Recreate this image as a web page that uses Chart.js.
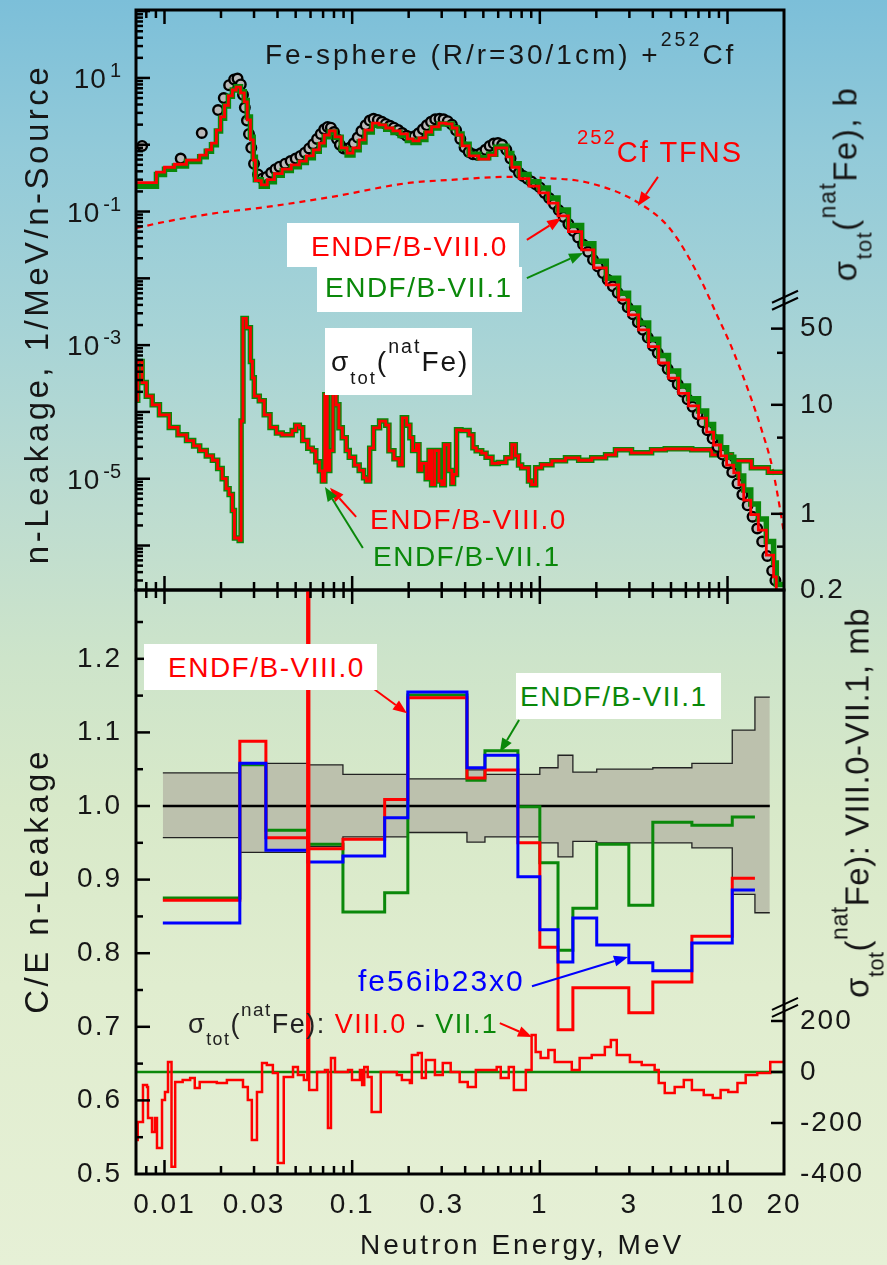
<!DOCTYPE html>
<html>
<head>
<meta charset="utf-8">
<title>Fe-sphere n-leakage</title>
<script src="https://cdn.jsdelivr.net/npm/chart.js@4.4.1/dist/chart.umd.min.js"></script>
<style>
  html, body { margin: 0; padding: 0; }
  #wrap {
    position: relative; width: 887px; height: 1265px; overflow: hidden;
    background: linear-gradient(to bottom, #7cbfd9 0%, #92cad9 12%, #a8d4d6 27%, #bddcd0 40%, #cde4ca 52%, #d8e9c9 64%, #e0edcf 78%, #e6f0d6 100%);
    font-family: 'Liberation Sans', Arial, sans-serif; color: #161616;
  }
  canvas { position: absolute; left: 0; top: 0; }
  .t { position: absolute; white-space: nowrap; line-height: 1; }
  .box { position: absolute; background: #fff; }
  .sup, .sub { line-height: 0; }
  .sup { font-size: 0.7em; vertical-align: 0.9em; }
  .sub { font-size: 0.66em; vertical-align: -0.7em; }
  .rot { position: absolute; white-space: nowrap; line-height: 1; transform: translate(-50%, -50%) rotate(-90deg); }
</style>
</head>
<body>
<div id="wrap">
  <canvas id="cTop" width="887" height="1265"></canvas>
  <canvas id="cBot" width="887" height="1265"></canvas>

  <div class="t" style="left:265px;top:39px;font-size:28px;letter-spacing:3px">Fe-sphere (R/r=30/1cm) +<span class="sup">252</span>Cf</div>
  <div class="t" style="left:577px;top:137px;font-size:29px;letter-spacing:2px;color:#f00"><span class="sup">252</span>Cf TFNS</div>

  <div class="box" style="left:287px;top:223px;width:232px;height:44px"></div>
  <div class="t" style="left:311px;top:233px;font-size:28px;letter-spacing:1.5px;color:#f00">ENDF/B-VIII.0</div>
  <div class="box" style="left:317px;top:267px;width:205px;height:45px"></div>
  <div class="t" style="left:325px;top:274px;font-size:28px;letter-spacing:1.5px;color:#0a880a">ENDF/B-VII.1</div>
  <div class="box" style="left:325px;top:328px;width:147px;height:67px"></div>
  <div class="t" style="left:331px;top:346px;font-size:28px;letter-spacing:2px">σ<span class="sub">tot</span>(<span class="sup">nat</span>Fe)</div>
  <div class="t" style="left:370px;top:506px;font-size:28px;letter-spacing:1.5px;color:#f00">ENDF/B-VIII.0</div>
  <div class="t" style="left:373px;top:543px;font-size:28px;letter-spacing:1.5px;color:#0a880a">ENDF/B-VII.1</div>

  <div class="box" style="left:144px;top:644px;width:233px;height:46px"></div>
  <div class="t" style="left:168px;top:654px;font-size:28px;letter-spacing:1.5px;color:#f00">ENDF/B-VIII.0</div>
  <div class="box" style="left:516px;top:673px;width:205px;height:46px"></div>
  <div class="t" style="left:520px;top:683px;font-size:28px;letter-spacing:1.5px;color:#0a880a">ENDF/B-VII.1</div>
  <div class="t" style="left:358px;top:966px;font-size:30px;letter-spacing:2px;color:#00f">fe56ib23x0</div>
  <div class="t" style="left:188px;top:1010px;font-size:27px;letter-spacing:1.5px;color:#222">σ<span class="sub">tot</span>(<span class="sup">nat</span>Fe): <span style="color:#f00">VIII.0</span> - <span style="color:#0a880a">VII.1</span></div>

  <div class="t" style="left:360px;top:1231px;font-size:28px;letter-spacing:3px">Neutron Energy, MeV</div>
  <div class="rot" style="left:36px;top:314px;font-size:33px;letter-spacing:3.5px">n-Leakage, 1/MeV/n-Source</div>
  <div class="rot" style="left:36px;top:881px;font-size:33px;letter-spacing:3.5px">C/E n-Leakage</div>
  <div class="rot" style="left:846px;top:184px;font-size:33px;letter-spacing:1.5px">σ<span class="sub">tot</span>(<span class="sup">nat</span>Fe), b</div>
  <div class="rot" style="left:858px;top:803px;font-size:33px;letter-spacing:0.5px">σ<span class="sub">tot</span>(<span class="sup">nat</span>Fe): VIII.0-VII.1, mb</div>
</div>

<script>
// ---------- top panel: leakage spectra (1/MeV/n-source) ----------
const specE = [0.0071, 0.00906, 0.0100, 0.0113, 0.0131, 0.0154, 0.0167, 0.0178, 0.0189, 0.0199,
  0.0209, 0.0219, 0.0230, 0.0241, 0.0254, 0.0266, 0.0276, 0.0287, 0.0297, 0.0305,
  0.0328, 0.0353, 0.0385, 0.0424, 0.0474, 0.0523, 0.0570, 0.0621, 0.0668, 0.0710,
  0.0755, 0.0812, 0.0874, 0.0940, 0.101, 0.109, 0.117, 0.128, 0.139, 0.151,
  0.165, 0.180, 0.197, 0.211, 0.227, 0.247, 0.265, 0.290, 0.316, 0.341,
  0.362, 0.385, 0.420, 0.473, 0.534, 0.582, 0.626, 0.667, 0.709, 0.776,
  0.875, 0.989, 1.11, 1.25, 1.42, 1.67, 1.94, 2.26, 2.63, 2.97,
  3.36, 3.80, 4.30, 4.85, 5.49, 6.20, 7.01, 7.74, 8.43, 9.2,
  9.89, 10.8, 11.5, 12.2, 13.3, 14.6, 16.1, 17.6, 18.2, 20];
const specVIII = [0.27, 0.39, 0.46, 0.51, 0.59, 0.70, 0.84, 1.06, 1.66, 2.61,
  3.9, 5.4, 6.6, 7.3, 5.96, 4.37, 2.35, 1.18, 0.59, 0.29,
  0.25, 0.30, 0.37, 0.43, 0.50, 0.57, 0.68, 0.84, 1.06, 1.40,
  1.61, 1.31, 0.90, 0.75, 0.90, 1.18, 1.66, 2.1, 1.98, 1.78,
  1.61, 1.45, 1.22, 1.14, 1.27, 1.55, 1.85, 2.1, 2.05, 1.78,
  1.40, 0.96, 0.68, 0.61, 0.70, 0.90, 0.90, 0.66, 0.46, 0.31,
  0.24, 0.19, 0.134, 0.086, 0.050, 0.0266, 0.0143, 0.0080, 0.00475, 0.00284,
  0.00169, 9.5e-4, 5.4e-4, 3.2e-4, 1.9e-4, 1.23e-4, 8.1e-5, 5.0e-5, 3.2e-5, 2.2e-5,
  1.6e-5, 1.22e-5, 8.1e-6, 4.8e-6, 2.9e-6, 1.7e-6, 7.2e-7, 3.4e-7, 1.5e-7, 1.5e-7];
const specVII = [0.24, 0.36, 0.43, 0.48, 0.56, 0.66, 0.80, 1.0, 1.6, 2.5,
  3.8, 5.3, 6.6, 7.4, 6.2, 4.6, 2.6, 1.3, 0.65, 0.30,
  0.24, 0.28, 0.35, 0.41, 0.47, 0.54, 0.64, 0.80, 1.0, 1.32,
  1.55, 1.30, 0.88, 0.70, 0.84, 1.10, 1.55, 1.95, 1.90, 1.70,
  1.52, 1.38, 1.16, 1.08, 1.20, 1.48, 1.78, 2.05, 2.05, 1.80,
  1.45, 1.02, 0.72, 0.64, 0.72, 0.92, 0.95, 0.74, 0.52, 0.36,
  0.28, 0.225, 0.16, 0.105, 0.062, 0.033, 0.018, 0.0100, 0.0060, 0.0036,
  0.00215, 1.22e-3, 7.0e-4, 4.1e-4, 2.45e-4, 1.58e-4, 1.03e-4, 6.5e-5, 4.2e-5, 2.9e-5,
  2.1e-5, 1.6e-5, 1.1e-5, 6.8e-6, 4.2e-6, 2.5e-6, 1.15e-6, 5.5e-7, 2.6e-7, 2.6e-7];

// measured leakage (open circles)
const expE = [0.0076, 0.0122, 0.0158, 0.0193, 0.0207, 0.0221, 0.0235, 0.0245, 0.0255, 0.0262,
  0.0268, 0.0275, 0.0282, 0.0290, 0.0300, 0.0315, 0.0332, 0.0350, 0.037, 0.039,
  0.041, 0.044, 0.047, 0.050, 0.053, 0.056, 0.059, 0.062, 0.065, 0.068,
  0.071, 0.074, 0.077, 0.080, 0.083, 0.086, 0.090, 0.094, 0.098, 0.102,
  0.107, 0.112, 0.118, 0.124, 0.130, 0.137, 0.144, 0.151, 0.159, 0.167,
  0.176, 0.185, 0.195, 0.205, 0.215, 0.226, 0.238, 0.250, 0.263, 0.277,
  0.292, 0.307, 0.323, 0.340, 0.358, 0.377, 0.397, 0.418, 0.440, 0.463,
  0.487, 0.513, 0.540, 0.568, 0.598, 0.630, 0.663, 0.698, 0.735, 0.774,
  0.815, 0.858, 0.903, 0.95, 1.0, 1.06, 1.12, 1.19, 1.26, 1.34,
  1.42, 1.51, 1.60, 1.70, 1.81, 1.92, 2.04, 2.17, 2.30, 2.45,
  2.60, 2.77, 2.94, 3.13, 3.33, 3.54, 3.76, 4.0, 4.25, 4.52,
  4.80, 5.1, 5.43, 5.77, 6.13, 6.52, 6.93, 7.37, 7.83, 8.33,
  8.85, 9.41, 10.0, 10.6, 11.3, 12.0, 12.8, 13.6, 14.4, 15.3,
  16.3, 17.3, 18.0];
const expV = [0.96, 0.62, 1.5, 3.3, 5.0, 7.8, 9.5, 9.8, 8.0, 5.6,
  3.6, 2.3, 1.45, 0.90, 0.52, 0.36, 0.31, 0.33, 0.38, 0.43,
  0.47, 0.52, 0.57, 0.62, 0.68, 0.76, 0.88, 1.02, 1.22, 1.45,
  1.70, 1.85, 1.80, 1.55, 1.22, 1.00, 0.88, 0.86, 0.92, 1.05,
  1.28, 1.60, 1.95, 2.3, 2.45, 2.35, 2.2, 2.05, 1.92, 1.80,
  1.66, 1.50, 1.36, 1.30, 1.34, 1.48, 1.70, 1.95, 2.2, 2.4,
  2.45, 2.4, 2.25, 2.0, 1.65, 1.22, 0.92, 0.78, 0.72, 0.71,
  0.75, 0.84, 0.96, 1.04, 1.06, 1.0, 0.84, 0.62, 0.46, 0.38,
  0.34, 0.31, 0.28, 0.255, 0.23, 0.19, 0.16, 0.13, 0.105, 0.083,
  0.065, 0.051, 0.041, 0.032, 0.025, 0.019, 0.015, 0.012, 0.0095, 0.0076,
  0.0061, 0.0049, 0.0037, 0.0029, 0.0022, 0.0017, 0.0013, 0.00098, 7.6e-4, 5.8e-4,
  4.4e-4, 3.4e-4, 2.6e-4, 2.0e-4, 1.55e-4, 1.2e-4, 9.2e-5, 7.0e-5, 5.3e-5, 4.0e-5,
  3.0e-5, 2.3e-5, 1.7e-5, 1.25e-5, 8.5e-6, 5.8e-6, 4.0e-6, 2.7e-6, 1.8e-6, 1.15e-6,
  7.0e-7, 4.2e-7, 3.0e-7];

// 252Cf source spectrum (dashed)
const tfnsE = [0.0071, 0.01, 0.0189, 0.0348, 0.078, 0.20, 0.33, 0.68, 1.07, 1.83,
  3.36, 5.0, 7.2, 8.7, 10.5, 12.9, 15.2, 17.3, 19.2, 20];
const tfnsV = [0.0567, 0.070, 0.095, 0.117, 0.166, 0.268, 0.297, 0.33, 0.318, 0.268,
  0.135, 0.053, 0.0095, 0.0030, 9.4e-4, 2.1e-4, 5.4e-5, 1.5e-5, 3.1e-6, 1.5e-6];

// total cross section of natFe, barn (right axis)
const sigE = [0.0070, 0.0072, 0.0076, 0.0080, 0.0086, 0.0094, 0.0106, 0.0118, 0.0131, 0.0143,
  0.0154, 0.0167, 0.0180, 0.0192, 0.0203, 0.0213, 0.0221, 0.0230, 0.0236, 0.0250,
  0.0256, 0.0262, 0.0273, 0.0287, 0.0294, 0.0301, 0.0320, 0.0340, 0.0365, 0.0395,
  0.0424, 0.0455, 0.0479, 0.0500, 0.0523, 0.0545, 0.0580, 0.0613, 0.0640, 0.0669,
  0.0694, 0.0715, 0.0737, 0.0760, 0.0790, 0.0821, 0.0850, 0.0886, 0.0930, 0.0965,
  0.103, 0.109, 0.115, 0.119, 0.124, 0.130, 0.140, 0.151, 0.157, 0.167,
  0.178, 0.185, 0.195, 0.203, 0.210, 0.220, 0.227, 0.235, 0.248, 0.257,
  0.265, 0.275, 0.290, 0.300, 0.310, 0.327, 0.340, 0.347, 0.360, 0.380,
  0.420, 0.440, 0.458, 0.490, 0.517, 0.556, 0.600, 0.659, 0.709, 0.740,
  0.770, 0.800, 0.870, 0.905, 0.950, 1.02, 1.16, 1.37, 1.61, 1.89,
  2.24, 2.53, 3.08, 3.94, 4.66, 6.45, 8.25, 10.5, 13.4, 16.5, 20];
const sigV = [11, 25, 16, 12, 10, 8.1, 6.2, 5.3, 4.7, 4.2,
  3.8, 3.4, 3.1, 2.6, 2.1, 1.7, 1.5, 1.07, 0.6, 0.57,
  7.1, 62, 51, 25, 17.7, 12, 10.9, 8.1, 6.2, 5.5,
  5.3, 5.3, 5.8, 6.5, 6.15, 4.7, 4.0, 3.78, 3.0, 2.48,
  2.0, 12.4, 2.5, 3.8, 15, 10, 6.15, 5.0, 3.8, 3.3,
  2.8, 2.5, 2.14, 2.0, 4.0, 6.15, 7.1, 6.5, 3.78, 3.2,
  2.82, 7.6, 6.5, 5.0, 3.8, 4.3, 2.5, 2.9, 2.1, 3.8,
  1.85, 3.8, 2.0, 1.85, 4.3, 2.5, 1.9, 2.3, 5.9, 5.8,
  5.3, 4.03, 3.78, 3.6, 3.3, 2.9, 2.95, 3.26, 4.3, 3.4,
  2.8, 2.64, 2.0, 1.85, 2.64, 2.82, 3.06, 3.26, 3.1, 3.26,
  3.48, 3.87, 3.63, 3.87, 3.95, 3.87, 3.48, 3.06, 2.64, 2.4, 2.3];

// ---------- bottom panel: C/E ratios ----------
const ceEdges = [0.0098, 0.0252, 0.0347, 0.0581, 0.0893, 0.149, 0.198, 0.409, 0.51, 0.764,
  1.0, 1.25, 1.5, 2.01, 2.98, 4.0, 6.46, 10.6, 14.0];
const ceVIII = [0.872, 1.088, 0.957, 0.942, 0.955, 1.009, 1.147, 1.038, 1.049, 0.950,
  0.808, 0.696, 0.753, 0.753, 0.719, 0.761, 0.823, 0.902];
const ceVII = [0.875, 1.056, 0.967, 0.948, 0.856, 0.882, 1.151, 1.035, 1.075, 0.999,
  0.923, 0.804, 0.861, 0.948, 0.865, 0.978, 0.974, 0.985];
const ceIB = [0.841, 1.058, 0.940, 0.924, 0.932, 0.984, 1.155, 1.052, 1.069, 0.904,
  0.832, 0.788, 0.848, 0.811, 0.787, 0.776, 0.814, 0.886];

// experimental uncertainty band
const bandEdges = [0.0098, 0.0252, 0.0347, 0.0581, 0.0893, 0.149, 0.198, 0.409, 0.51, 0.764,
  1.0, 1.25, 1.5, 2.01, 2.98, 4.0, 6.46, 10.6, 14.0, 16.8];
const bandHi = [1.045, 1.058, 1.058, 1.056, 1.043, 1.043, 1.037, 1.049, 1.043, 1.043,
  1.052, 1.069, 1.046, 1.050, 1.050, 1.052, 1.058, 1.103, 1.148];
const bandLo = [0.957, 0.937, 0.937, 0.945, 0.958, 0.958, 0.964, 0.951, 0.958, 0.958,
  0.950, 0.931, 0.952, 0.950, 0.950, 0.950, 0.943, 0.880, 0.855];
const unitE = [0.0098, 16.8];
const unitV = [1, 1];

// sigma_tot difference VIII.0 - VII.1, mb (right axis)
const diffE = [0.00702, 0.0072, 0.00768, 0.00807, 0.00817, 0.00858, 0.0089, 0.00912, 0.0097, 0.01006,
  0.01044, 0.0109, 0.0114, 0.0125, 0.0137, 0.0145, 0.0154, 0.0190, 0.0215, 0.0262,
  0.0278, 0.0292, 0.0311, 0.0331, 0.0351, 0.0378, 0.0402, 0.0432, 0.0484, 0.0514,
  0.0553, 0.0577, 0.0590, 0.0650, 0.0716, 0.0743, 0.0771, 0.0810, 0.0951, 0.0998,
  0.110, 0.113, 0.116, 0.121, 0.127, 0.142, 0.173, 0.184, 0.203, 0.208,
  0.224, 0.235, 0.247, 0.276, 0.304, 0.335, 0.374, 0.413, 0.456, 0.589,
  0.619, 0.683, 0.727, 0.842, 0.904, 0.950, 1.01, 1.11, 1.20, 1.48,
  1.63, 1.89, 2.22, 2.39, 2.57, 3.02, 3.49, 4.09, 4.30, 4.63,
  5.23, 5.85, 6.46, 7.47, 8.34, 9.19, 10.1, 11.3, 12.5, 14.4, 16.9, 20];
const diffV = [-267, -196, -51, -59, -180, -235, -180, -298, -110, -78,
  39, -372, -39, -31, -24, -63, -39, -43, -31, -59,
  -110, -267, -78, 35, 27, -4, -357, -20, 20, -12,
  -31, 3000, -71, 0, 8, -220, 55, 0, 8, -31,
  8, -51, 20, -20, -157, 0, -12, -31, -43, 67,
  74, -24, 47, -12, 35, 0, -39, -59, 8, 20,
  -24, 20, -71, 8, 145, 78, 55, 86, 39, 8,
  55, 67, 98, 125, 67, 39, 27, 8, -43, -82,
  -59, -31, -71, -90, -102, -71, -78, -43, -12, -4, 39, 39];
const zeroE = [0.007, 20];
const zeroV = [0, 0];

// ---------- tick values ----------
const xLabels = [0.01, 0.03, 0.1, 0.3, 1, 3, 10, 20];
const xMajor = [0.01, 0.1, 1, 10];
const sigLabels = [0.2, 1, 10, 50];
const sigMinor = [0.5, 5, 30];
const leakMajor = [1e-6, 1e-5, 1e-4, 1e-3, 1e-2, 1e-1, 1, 10, 100];
const leakPow = [1, -1, -3, -5];
const ceLabels = [0.5, 0.6, 0.7, 0.8, 0.9, 1.0, 1.1, 1.2];
const ceMinor = [0.55, 0.65, 0.75, 0.85, 0.95, 1.05, 1.15, 1.25];
const diffLabels = [-400, -200, 0, 200];

const RED = '#ff0000', GREEN = '#0a880a', BLUE = '#0000ff';
const FONT = "'Liberation Sans', Arial, sans-serif";
Chart.defaults.font.family = FONT;
Chart.defaults.font.size = 28;
Chart.defaults.color = '#161616';

const pts = (xs, ys) => xs.map((x, i) => ({x: x, y: ys[i]}));
const hist = (edges, vals) => edges.map((x, i) => ({x: x, y: vals[Math.min(i, vals.length - 1)]}));
const minorLog = (lo, hi) => {
  const out = [];
  for (let d = lo; d <= hi; d++) for (let k = 2; k <= 9; k++) out.push(k * Math.pow(10, d));
  return out;
};
const xMinor = minorLog(-3, 1);

// frame, inward ticks, axis break, 10^n labels and arrows
function panelDeco(cfg) {
  return {
    id: 'panelDeco',
    beforeDraw(chart) { chart.ctx.letterSpacing = '2px'; },
    afterDraw(chart) {
      const {ctx, chartArea: a, scales} = chart;
      ctx.save();
      ctx.letterSpacing = '0px';
      const seg = (x1, y1, x2, y2) => { ctx.beginPath(); ctx.moveTo(x1, y1); ctx.lineTo(x2, y2); ctx.stroke(); };
      const inX = p => p > a.left + 1 && p < a.right - 1;
      const inY = p => p > a.top + 1 && p < a.bottom - 1;
      ctx.strokeStyle = '#000';
      ctx.lineWidth = 2.5;
      [[xMajor, 14], [xMinor, 8]].forEach(([vals, len]) => vals.forEach(v => {
        const p = scales.x.getPixelForValue(v);
        if (!inX(p)) return;
        seg(p, a.top, p, a.top + len);
        seg(p, a.bottom, p, a.bottom - len);
      }));
      [[cfg.lMajor, 14], [cfg.lMinor, 7]].forEach(([vals, len]) => vals.forEach(v => {
        const p = scales.y.getPixelForValue(v);
        if (inY(p)) seg(a.left, p, a.left + len, p);
      }));
      [[cfg.rMajor, 13], [cfg.rMinor, 7]].forEach(([vals, len]) => vals.forEach(v => {
        const p = scales.y2.getPixelForValue(v);
        if (inY(p)) seg(a.right, p, a.right - len, p);
      }));
      const pb = scales.y2.getPixelForValue(cfg.brk);
      ctx.lineWidth = 2;
      seg(a.right - 12, pb + 5, a.right + 14, pb - 7);
      seg(a.right - 12, pb + 12, a.right + 14, pb);
      ctx.lineWidth = 3;
      ctx.strokeRect(a.left, a.top, a.right - a.left, a.bottom - a.top);

      (cfg.pow || []).forEach(n => {
        const p = scales.y.getPixelForValue(Math.pow(10, n));
        ctx.fillStyle = '#161616';
        ctx.textAlign = 'right';
        ctx.textBaseline = 'alphabetic';
        ctx.font = '20px ' + FONT;
        const ex = String(n);
        const w = ctx.measureText(ex).width;
        ctx.fillText(ex, a.left - 15, p - 1);
        ctx.font = '28px ' + FONT;
        ctx.letterSpacing = '1px';
        ctx.fillText('10', a.left - 18 - w, p + 10);
        ctx.letterSpacing = '0px';
      });

      (cfg.arrows || []).forEach(ar => {
        const sy = scales[ar.axis];
        const x1 = scales.x.getPixelForValue(ar.from[0]), y1 = sy.getPixelForValue(ar.from[1]);
        const x2 = scales.x.getPixelForValue(ar.to[0]), y2 = sy.getPixelForValue(ar.to[1]);
        const ang = Math.atan2(y2 - y1, x2 - x1), L = 14, W = 5.5;
        const bx = x2 - L * Math.cos(ang), by = y2 - L * Math.sin(ang);
        ctx.strokeStyle = ar.color;
        ctx.fillStyle = ar.color;
        ctx.lineWidth = 2;
        seg(x1, y1, bx, by);
        ctx.beginPath();
        ctx.moveTo(x2, y2);
        ctx.lineTo(bx + W * Math.sin(ang), by - W * Math.cos(ang));
        ctx.lineTo(bx - W * Math.sin(ang), by + W * Math.cos(ang));
        ctx.closePath();
        ctx.fill();
      });
      ctx.restore();
    }
  };
}

const noPad = s => { s.paddingTop = 0; s.paddingBottom = 0; s.paddingLeft = 0; s.paddingRight = 0; };
const hidden = {display: false, drawTicks: false};

// ---------- top chart ----------
new Chart(document.getElementById('cTop'), {
  type: 'line',
  data: {
    datasets: [
      {data: pts(specE, specVIII), yAxisID: 'y', borderColor: RED, borderWidth: 2.8, stepped: true, order: 1},
      {data: pts(specE, specVII), yAxisID: 'y', borderColor: GREEN, borderWidth: 5.5, stepped: true, order: 2},
      {data: pts(expE, expV), yAxisID: 'y', showLine: false, pointRadius: 4.8, pointBackgroundColor: '#b9b9b9',
        pointBorderColor: '#000', pointBorderWidth: 2.4, order: 3},
      {data: pts(sigE, sigV), yAxisID: 'y2', borderColor: RED, borderWidth: 2.8, stepped: true, order: 4},
      {data: pts(sigE, sigV), yAxisID: 'y2', borderColor: GREEN, borderWidth: 5.5, stepped: true, order: 5},
      {data: pts(tfnsE, tfnsV), yAxisID: 'y', borderColor: RED, borderWidth: 2.2, borderDash: [6, 5],
        cubicInterpolationMode: 'monotone', order: 6}
    ]
  },
  options: {
    responsive: false, animation: false, events: [],
    layout: {padding: {top: 10, bottom: 675, left: 0, right: 0}},
    elements: {point: {radius: 0}},
    plugins: {legend: {display: false}, tooltip: {enabled: false}},
    scales: {
      x: {type: 'logarithmic', min: 0.00705, max: 20, bounds: 'data', display: false},
      y: {type: 'logarithmic', position: 'left', min: 2.16e-7, max: 104, bounds: 'data',
        grid: hidden, border: {display: false}, ticks: {display: false},
        afterFit: s => { s.width = 136; noPad(s); }},
      y2: {type: 'logarithmic', position: 'right', min: 0.2, max: 41900, bounds: 'data',
        grid: hidden, border: {display: false},
        ticks: {autoSkip: false, padding: 16, callback: v => String(v)},
        afterBuildTicks: s => { s.ticks = sigLabels.map(v => ({value: v})); },
        afterFit: s => { s.width = 103; noPad(s); }}
    }
  },
  plugins: [panelDeco({
    lMajor: leakMajor, lMinor: minorLog(-7, 1),
    rMajor: sigLabels, rMinor: sigMinor, brk: 96, pow: leakPow,
    arrows: [
      {from: [4.26, 0.33], to: [3.33, 0.121], axis: 'y', color: RED},
      {from: [0.853, 0.0376], to: [1.30, 0.080], axis: 'y', color: RED},
      {from: [0.853, 0.0101], to: [1.70, 0.024], axis: 'y', color: GREEN},
      {from: [0.105, 2.68e-6], to: [0.0762, 7.3e-6], axis: 'y', color: RED},
      {from: [0.114, 9.2e-7], to: [0.0716, 7.5e-6], axis: 'y', color: GREEN}
    ]
  })]
});

// ---------- bottom chart ----------
new Chart(document.getElementById('cBot'), {
  type: 'line',
  data: {
    datasets: [
      {data: pts(diffE, diffV), yAxisID: 'y2', borderColor: RED, borderWidth: 2.5, stepped: true, order: 1},
      {data: pts(zeroE, zeroV), yAxisID: 'y2', borderColor: GREEN, borderWidth: 2.5, order: 2},
      {data: hist(ceEdges, ceIB), yAxisID: 'y', borderColor: BLUE, borderWidth: 3, stepped: true, order: 3},
      {data: hist(ceEdges, ceVIII), yAxisID: 'y', borderColor: RED, borderWidth: 3, stepped: true, order: 4},
      {data: hist(ceEdges, ceVII), yAxisID: 'y', borderColor: GREEN, borderWidth: 3, stepped: true, order: 5},
      {data: pts(unitE, unitV), yAxisID: 'y', borderColor: '#000', borderWidth: 2.5, order: 6},
      {data: hist(bandEdges, bandHi), yAxisID: 'y', borderColor: '#222', borderWidth: 1.3, stepped: true,
        fill: '+1', backgroundColor: '#bcc1ad', order: 8},
      {data: hist(bandEdges, bandLo), yAxisID: 'y', borderColor: '#222', borderWidth: 1.3, stepped: true, order: 7}
    ]
  },
  options: {
    responsive: false, animation: false, events: [],
    layout: {padding: {top: 590, bottom: 0, left: 0, right: 0}},
    elements: {point: {radius: 0}},
    plugins: {legend: {display: false}, tooltip: {enabled: false}},
    scales: {
      x: {type: 'logarithmic', position: 'bottom', min: 0.00705, max: 20, bounds: 'data',
        grid: hidden, border: {display: false},
        ticks: {autoSkip: false, maxRotation: 0, padding: 14, callback: v => String(v)},
        afterBuildTicks: s => { s.ticks = xLabels.map(v => ({value: v})); },
        afterFit: s => { s.height = 91; noPad(s); }},
      y: {type: 'linear', position: 'left', min: 0.5, max: 1.2935, bounds: 'data',
        grid: hidden, border: {display: false},
        ticks: {autoSkip: false, padding: 14, callback: v => Number(v).toFixed(1)},
        afterBuildTicks: s => { s.ticks = ceLabels.map(v => ({value: v})); },
        afterFit: s => { s.width = 136; noPad(s); }},
      y2: {type: 'linear', position: 'right', min: -400, max: 1890, bounds: 'data',
        grid: hidden, border: {display: false},
        ticks: {autoSkip: false, padding: 16, callback: v => String(v)},
        afterBuildTicks: s => { s.ticks = diffLabels.map(v => ({value: v})); },
        afterFit: s => { s.width = 103; noPad(s); }}
    }
  },
  plugins: [panelDeco({
    lMajor: ceLabels, lMinor: ceMinor,
    rMajor: diffLabels, rMinor: [], brk: 263,
    arrows: [
      {from: [0.129, 1.160], to: [0.196, 1.126], axis: 'y', color: RED},
      {from: [0.775, 1.117], to: [0.612, 1.073], axis: 'y', color: GREEN},
      {from: [0.908, 0.755], to: [2.95, 0.795], axis: 'y', color: BLUE},
      {from: [0.612, 0.705], to: [0.908, 0.686], axis: 'y', color: RED}
    ]
  })]
});
</script>
</body>
</html>
